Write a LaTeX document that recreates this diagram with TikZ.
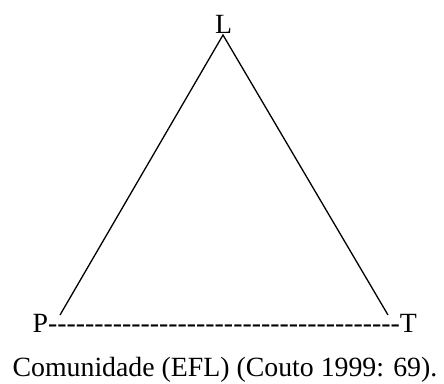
\documentclass[tikz,border=0pt]{standalone}
\usepackage{fontspec}
\setmainfont{Liberation Serif}

\begin{document}
\begin{tikzpicture}[x=1pt,y=1pt,line width=1.3pt,font=\fontsize{27.8}{32}\selectfont]
        \useasboundingbox (0,0) rectangle (444,383);
        \node (L) [anchor=base, inner sep=0pt] at (223.5,349) {L};
        \node (base) [anchor=base west, inner sep=0pt] at (32,51) {P\foreach \d in {1,...,38}{-}T};
        \node (caption) [anchor=base west, inner sep=0pt] at (12,6.5) {Comunidade (EFL) (Couto 1999: 69).};
        \coordinate (top) at (223,348);
        \coordinate (left) at (60,68);
        \coordinate (right) at (388,68);

        \draw (left) -- (top) -- (right);
    \end{tikzpicture}
\end{document}
